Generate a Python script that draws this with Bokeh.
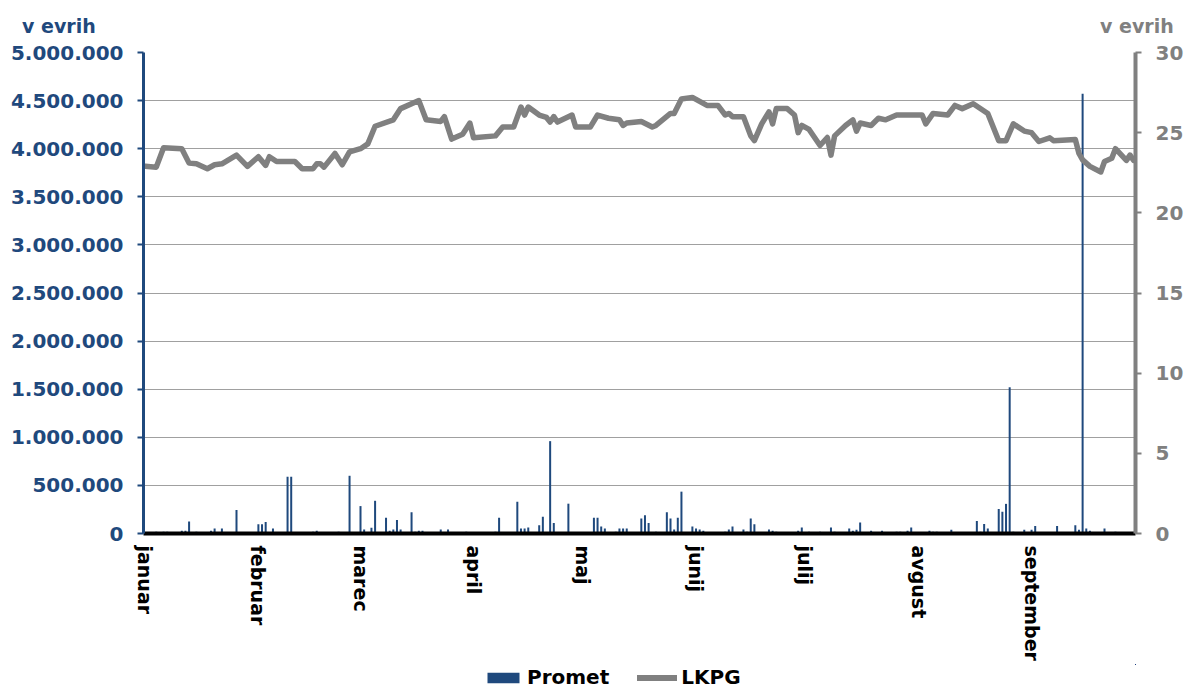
from bokeh.plotting import figure
from bokeh.layouts import column
from bokeh.models import (Range1d, LinearAxis, FixedTicker, Legend, LegendItem, Div)
from bokeh.embed import file_html
from bokeh.resources import INLINE

# ---- data ----
months = ["januar", "februar", "marec", "april", "maj", "junij", "julij", "avgust", "september"]
month_start_day = [0, 31, 59, 90, 120, 151, 181, 212, 243]

# Promet (turnover, EUR) by day of year (0 = 1 January)
promet_day = [3, 5, 6, 10, 11, 12, 14, 18, 19, 21, 25, 31, 32, 33, 35, 39, 40, 46, 47, 53,
              56, 59, 60, 62, 63, 66, 67, 68, 69, 70, 73, 74, 75, 76, 81, 83, 88, 96, 97, 102,
              103, 104, 105, 108, 109, 111, 112, 116, 123, 124, 125, 126, 129, 130, 131, 132, 136, 137, 138, 140,
              143, 144, 145, 146, 147, 150, 151, 152, 153, 159, 160, 161, 164, 165, 166, 167, 171, 172, 173, 178,
              179, 180, 182, 185, 188, 189, 193, 194, 195, 196, 199, 202, 206, 207, 209, 210, 215, 216, 217, 221,
              228, 229, 230, 231, 234, 235, 236, 237, 238, 241, 243, 244, 250, 255, 256, 257, 258, 259, 263, 266]
promet_eur = [17000, 17000, 17000, 28000, 28000, 125000, 17000, 28000, 52000, 52000, 245000, 97000, 97000, 120000, 52000, 590000, 590000, 17000, 28000, 17000,
              600000, 285000, 41000, 59000, 340000, 165000, 28000, 41000, 140000, 41000, 220000, 17000, 28000, 28000, 41000, 41000, 17000, 17000, 165000, 330000,
              52000, 52000, 62000, 86000, 175000, 960000, 110000, 310000, 165000, 165000, 72000, 52000, 17000, 52000, 52000, 52000, 155000, 190000, 110000, 17000,
              220000, 155000, 41000, 165000, 435000, 72000, 52000, 41000, 28000, 17000, 41000, 72000, 41000, 17000, 155000, 97000, 41000, 28000, 17000, 12000,
              28000, 63000, 17000, 17000, 63000, 17000, 52000, 28000, 38000, 115000, 28000, 28000, 17000, 17000, 28000, 63000, 28000, 17000, 17000, 38000,
              130000, 17000, 98000, 52000, 255000, 227000, 308000, 1520000, 17000, 38000, 38000, 77000, 77000, 87000, 38000, 4570000, 52000, 28000, 52000, 17000]

# LKPG price (EUR)
lkpg_day = [0, 3, 5, 10, 12, 14, 17, 19, 21, 25, 28, 31, 33, 34, 36, 41, 43, 46, 47, 48,
            49, 52, 54, 56, 59, 61, 63, 68, 70, 75, 77, 81, 82, 84, 87, 89, 90, 96, 98, 101,
            103, 104, 105, 108, 110, 111, 112, 113, 117, 118, 122, 124, 127, 130, 131, 132, 136, 139, 140, 144,
            145, 147, 150, 154, 157, 159, 160, 161, 164, 166, 167, 169, 171, 172, 173, 176, 178, 179, 180, 182,
            185, 187, 188, 189, 192, 194, 195, 196, 199, 201, 203, 206, 213, 214, 216, 220, 222, 224, 227, 231,
            234, 236, 238, 241, 243, 245, 248, 249, 255, 256, 257, 259, 262, 263, 265, 266, 269, 270, 271]
lkpg_eur = [22.9, 22.85, 24.06, 24.0, 23.1, 23.06, 22.75, 23.0, 23.06, 23.6, 22.9, 23.5, 22.96, 23.5, 23.2, 23.2, 22.75, 22.75, 23.06, 23.06,
            22.85, 23.7, 23.0, 23.8, 24.0, 24.3, 25.4, 25.8, 26.5, 27.0, 25.8, 25.7, 26.0, 24.6, 24.9, 25.6, 24.68, 24.8, 25.35, 25.35,
            26.6, 26.1, 26.6, 26.1, 25.95, 25.66, 26.0, 25.66, 26.1, 25.35, 25.35, 26.1, 25.9, 25.8, 25.45, 25.6, 25.7, 25.35, 25.45, 26.2,
            26.2, 27.1, 27.2, 26.7, 26.7, 26.1, 26.2, 26.0, 26.0, 24.8, 24.5, 25.55, 26.3, 25.55, 26.5, 26.5, 26.1, 25.0, 25.45, 25.2,
            24.2, 24.7, 23.6, 24.8, 25.45, 25.8, 25.1, 25.6, 25.45, 25.9, 25.8, 26.1, 26.1, 25.55, 26.2, 26.1, 26.7, 26.5, 26.8, 26.2,
            24.5, 24.5, 25.55, 25.1, 25.0, 24.45, 24.68, 24.5, 24.57, 23.7, 23.3, 22.9, 22.55, 23.2, 23.4, 24.0, 23.27, 23.6, 23.27]

left_ticks = [0, 500000, 1000000, 1500000, 2000000, 2500000, 3000000, 3500000, 4000000, 4500000, 5000000]
left_tick_labels = ["0", "500.000", "1.000.000", "1.500.000", "2.000.000", "2.500.000",
                    "3.000.000", "3.500.000", "4.000.000", "4.500.000", "5.000.000"]
right_ticks = [0, 5, 10, 15, 20, 25, 30]
unit_label = "v evrih"
series_names = ["Promet", "LKPG"]

# ---- styles ----
BLUE = "#1F497D"
GREY = "#808080"
FONT = "DejaVu Sans"

# header with the unit captions of the two value axes
head = Div(text=(
    '<div style="position:relative;width:1187px;height:40px;'
    'font-family:\'DejaVu Sans\';font-weight:bold;font-size:19px;line-height:22px;">'
    '<span style="position:absolute;left:22px;top:15px;color:%s;white-space:nowrap;">%s</span>'
    '<span style="position:absolute;left:1100px;top:15px;color:%s;white-space:nowrap;">%s</span>'
    '</div>') % (BLUE, unit_label, GREY, unit_label),
    width=1187, height=40, margin=0)

p = figure(width=1187, height=624, output_backend="svg", toolbar_location=None,
           x_range=Range1d(-0.5, 271.5), y_range=Range1d(0, 5000000),
           min_border_left=143, min_border_right=52, min_border_top=12, min_border_bottom=131)
p.extra_y_ranges = {"lkpg": Range1d(0, 30)}
p.outline_line_color = None
p.background_fill_color = "white"
p.border_fill_color = "white"

bars = p.vbar(x=promet_day, top=promet_eur, width=0.55, fill_color=BLUE, line_color=None)
line = p.line(x=lkpg_day, y=lkpg_eur, y_range_name="lkpg", line_color=GREY,
              line_width=5.5, line_join="round", line_cap="round")

# x axis
xa = p.xaxis[0]
xa.ticker = FixedTicker(ticks=month_start_day)
xa.major_label_overrides = {d: m for d, m in zip(month_start_day, months)}
xa.major_label_orientation = "vertical"
xa.major_label_text_font = FONT
xa.major_label_text_font_style = "bold"
xa.major_label_text_font_size = "19px"
xa.major_label_text_color = "black"
xa.major_label_standoff = 12
xa.axis_line_color = "black"
xa.axis_line_width = 4
xa.major_tick_out = 0
xa.major_tick_in = 0
xa.minor_tick_out = 0
xa.minor_tick_in = 0

# left axis
ya = p.yaxis[0]
ya.ticker = FixedTicker(ticks=left_ticks)
ya.major_label_overrides = {t: s for t, s in zip(left_ticks, left_tick_labels)}
ya.major_label_text_font = FONT
ya.major_label_text_font_style = "bold"
ya.major_label_text_font_size = "20px"
ya.major_label_text_color = BLUE
ya.major_label_standoff = 14
ya.axis_line_color = BLUE
ya.axis_line_width = 3
ya.major_tick_line_color = BLUE
ya.major_tick_line_width = 2
ya.major_tick_out = 6
ya.major_tick_in = 0
ya.minor_tick_out = 0
ya.minor_tick_in = 0

# right axis
ra = LinearAxis(y_range_name="lkpg", ticker=FixedTicker(ticks=right_ticks))
ra.major_label_text_font = FONT
ra.major_label_text_font_style = "bold"
ra.major_label_text_font_size = "20px"
ra.major_label_text_color = GREY
ra.major_label_standoff = 14
ra.axis_line_color = GREY
ra.axis_line_width = 4
ra.major_tick_line_color = GREY
ra.major_tick_line_width = 2
ra.major_tick_out = 6
ra.major_tick_in = 0
ra.minor_tick_out = 0
ra.minor_tick_in = 0
p.add_layout(ra, "right")

p.xgrid.grid_line_color = None
p.ygrid.ticker = FixedTicker(ticks=left_ticks)
p.ygrid.grid_line_color = "#A0A0A0"
p.ygrid.grid_line_width = 1

# legend strip below the chart: same series, same styles; its ranges keep the
# series themselves out of view so only the legend shows
leg = figure(width=1187, height=25, output_backend="svg", toolbar_location=None,
             x_range=Range1d(-3, -2), y_range=Range1d(-3, -2),
             x_axis_location=None, y_axis_location=None,
             min_border_left=143, min_border_right=52, min_border_top=0, min_border_bottom=0)
leg.outline_line_color = None
leg.grid.visible = False
leg_bar = leg.vbar(x=promet_day, top=promet_eur, width=0.55, fill_color=BLUE, line_color=None)
leg_line = leg.line(x=lkpg_day, y=lkpg_eur, line_color=GREY, line_width=6, line_cap="round")
legend = Legend(items=[LegendItem(label=series_names[0], renderers=[leg_bar]),
                       LegendItem(label=series_names[1], renderers=[leg_line])],
                orientation="horizontal", location=(340, 0),
                glyph_width=40, glyph_height=13, label_standoff=4, spacing=28,
                padding=0, margin=0, border_line_alpha=0, background_fill_alpha=0,
                label_text_font=FONT, label_text_font_style="bold", label_text_font_size="20px",
                label_text_color="black")
leg.add_layout(legend, "center")

layout = column(head, p, leg, spacing=0)
open("out.html", "w").write(file_html(layout, INLINE))
